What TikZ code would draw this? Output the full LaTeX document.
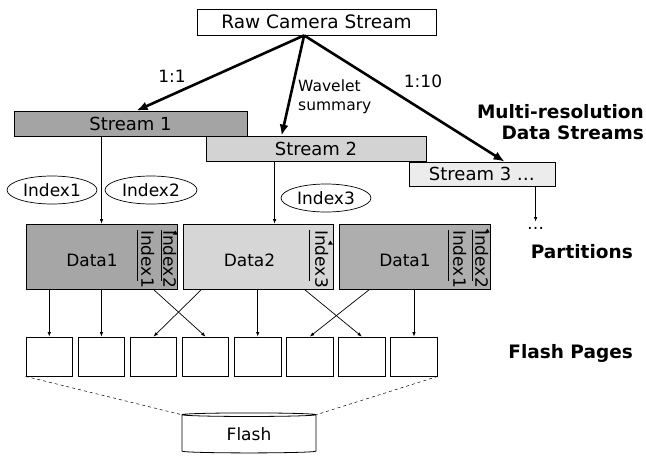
\documentclass[tikz,border=0pt]{standalone}
\usepackage{fontspec}
\setmainfont{DejaVu Sans}
\usetikzlibrary{arrows.meta,shapes.geometric}
\tikzset{>={Latex[width=3.5pt,length=4.5pt]}}
\definecolor{sone}{HTML}{A4A4A4}
\definecolor{stwo}{HTML}{D3D3D3}
\definecolor{sthree}{HTML}{ECECEC}
\definecolor{done}{HTML}{A6A6A6}
\definecolor{dtwo}{HTML}{D6D6D6}
\definecolor{dthree}{HTML}{AEAEAE}

\begin{document}
\begin{tikzpicture}[x=1pt,y=-1pt,font=\fontsize{17}{20}\selectfont]
\tikzstyle{box}=[draw,line width=0.8pt,inner sep=0]
\tikzstyle{strm}=[box,minimum height=25pt,font=\fontsize{18}{20}\selectfont]
\tikzstyle{part}=[box,minimum width=151pt,minimum height=65pt]
\tikzstyle{idx}=[draw,ellipse,line width=0.7pt,minimum width=90pt,minimum height=28pt,inner sep=0]
\tikzstyle{big}=[->,line width=2.6pt,>={Latex[width=9pt,length=11pt]}]
\tikzstyle{thin}=[->,line width=0.7pt]
\tikzstyle{page}=[draw,line width=0.8pt,minimum width=46.5pt,minimum height=39pt,inner sep=0]
\tikzstyle{vtxt}=[rotate=-90,inner sep=0]
\tikzstyle{hd}=[font=\fontsize{18.5}{21}\selectfont\bfseries,align=right,anchor=east,inner sep=0]

    \useasboundingbox (0,0) rectangle (646,456);

    % streams
    \node[box,minimum width=239pt,minimum height=26pt,font=\fontsize{18.5}{20}\selectfont] (raw) at (316.5,22) {Raw Camera Stream};
    \node[strm,fill=sone,minimum width=233pt] (s1) at (130.5,123.5) {Stream 1};
    \node[strm,fill=stwo,minimum width=220pt] (s2) at (316,148.5) {Stream 2};
    \node[strm,fill=sthree,minimum width=146pt,minimum height=24pt] (s3) at (482,174) {Stream 3 …};

    \coordinate (apex) at ([xshift=107.5pt]raw.south west);
    \draw[big] (apex) -- ([xshift=123pt]s1.north west);
    \draw[big] (apex) -- ([xshift=76pt]s2.north west);
    \draw[big] (apex) -- ([xshift=96pt]s3.north west);

    \node (r1) at (172,76) {1:1};
    \node[font=\fontsize{15.5}{19}\selectfont,align=left,anchor=west,inner sep=1pt] (wav) at (297,96.5) {Wavelet\\summary};
    \node (r10) at (423,81) {1:10};
    \node[hd] (mrs) at (644,122) {Multi-resolution\\Data Streams};

    % indexes
    \node[idx] (ix1) at (52,190) {Index1};
    \node[idx,minimum width=92pt] (ix2) at (151,190) {Index2};
    \node[idx] (ix3) at (326,198) {Index3};

    % partitions
    \node[part,fill=done] (d1) at (101.5,256.5) {};
    \node[part,fill=dtwo,minimum width=150pt] (d2) at (258,256.5) {};
    \node[part,fill=dthree] (d3) at (414.5,256.5) {};
    \node (t1) at ([xshift=-9.5pt,yshift=-3.5pt]d1.center) {Data1};
    \node (t2) at ([xshift=-8.5pt,yshift=-3.5pt]d2.center) {Data2};
    \node (t3) at ([xshift=-9.5pt,yshift=-3.5pt]d3.center) {Data1};

    \draw[line width=0.7pt] ([xshift=112pt,yshift=-6pt]d1.north west) -- ([xshift=112pt,yshift=8pt]d1.south west);
    \draw[line width=0.7pt] ([xshift=136pt,yshift=-6pt]d1.north west) -- ([xshift=136pt,yshift=8pt]d1.south west);
    \draw[line width=0.7pt] ([xshift=127pt,yshift=-6pt]d2.north west) -- ([xshift=127pt,yshift=8pt]d2.south west);
    \draw[line width=0.7pt] ([xshift=110pt,yshift=-6pt]d3.north west) -- ([xshift=110pt,yshift=8pt]d3.south west);
    \draw[line width=0.7pt] ([xshift=134pt,yshift=-6pt]d3.north west) -- ([xshift=134pt,yshift=8pt]d3.south west);
    \node[vtxt] (v11) at ([xshift=122pt,yshift=-2.5pt]d1.west) {Index1};
    \node[vtxt] (v12) at ([xshift=144pt,yshift=-2.5pt]d1.west) {Index2};
    \node[vtxt] (v23) at ([xshift=139pt,yshift=-2.5pt]d2.west) {Index3};
    \node[vtxt] (v31) at ([xshift=121pt,yshift=-2.5pt]d3.west) {Index1};
    \node[vtxt] (v32) at ([xshift=143pt,yshift=-2.5pt]d3.west) {Index2};
    \fill ([xshift=-2pt,yshift=-7pt]d1.north east) -- ++(-2.5,4) -- ++(5,0) -- cycle;
    \fill ([xshift=-3pt,yshift=-17pt]d2.north east) -- ++(-2.5,4) -- ++(5,0) -- cycle;
    \fill ([xshift=-3pt,yshift=-5pt]d3.north east) -- ++(-2.5,4) -- ++(5,0) -- cycle;

    \coordinate (c2) at ([xshift=69pt]s2.south west);
    \coordinate (c3) at ([xshift=127pt]s3.south west);
    \coordinate (c3e) at ([yshift=2pt]c3 |- d1.north);
    \node[anchor=base,inner sep=0] (dots) at ([yshift=-8pt]c3e) {…};
    \draw[thin] (s1.south -| d1.north) -- (d1.north);
    \draw[thin] (c2) -- (c2 |- d2.north);
    \draw[thin] (c3) -- (c3e);
    \node[hd] (prt) at (633,252) {Partitions};

    % flash pages
    \foreach \i in {1,...,8}
        \node[page] (p\i) at ({49.3+52.1*(\i-1)},356.5) {};
    \node[hd] (fpg) at (633,353) {Flash Pages};

    \draw[thin] (d1.south -| p1.north) -- (p1.north);
    \draw[thin] (d1.south -| p2.north) -- (p2.north);
    \draw[thin] ([xshift=-24pt]d1.south east) -- (p4.north);
    \draw[thin] ([xshift=19pt]d2.south west) -- (p3.north);
    \draw[thin] (d2.south -| p5.north) -- (p5.north);
    \draw[thin] ([xshift=-29pt]d2.south east) -- (p7.north);
    \draw[thin] ([xshift=31pt]d3.south west) -- (p6.north);
    \draw[thin] (d3.south -| p8.north) -- (p8.north);

    % flash
    \node[cylinder,shape border rotate=90,draw,line width=0.8pt,aspect=0.08,minimum width=134pt,minimum height=40pt,inner sep=0] (fl) at (249,434) {Flash};
    \draw[dashed,line width=0.5pt] (p1.south west) -- (fl.before top);
    \draw[dashed,line width=0.5pt] (p8.south east) -- (fl.after top);

\end{tikzpicture}
\end{document}
